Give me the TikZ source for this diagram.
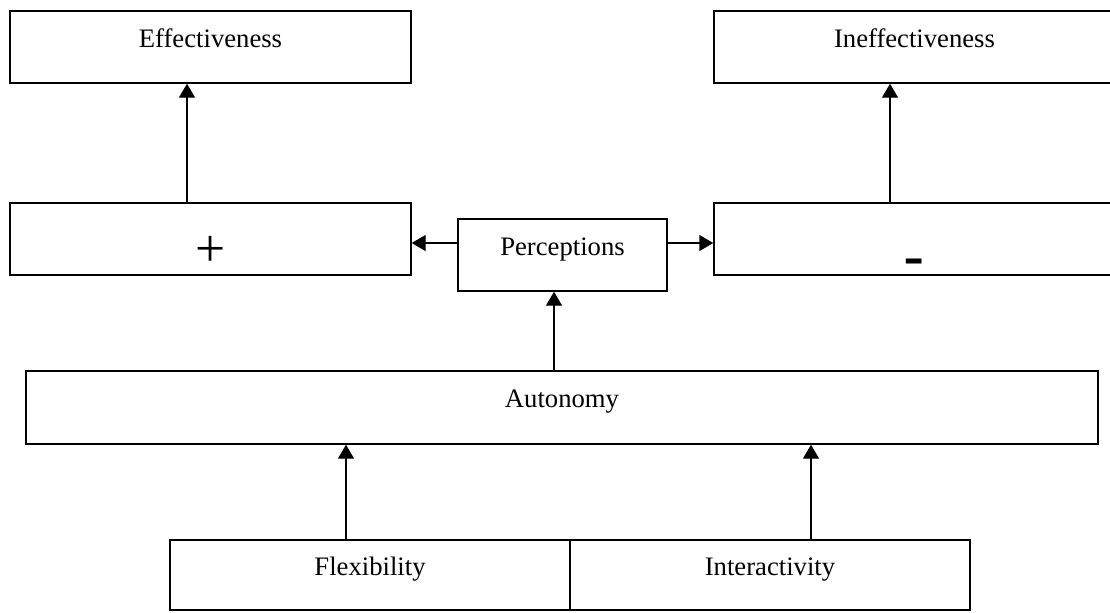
\documentclass[tikz,border=0pt]{standalone}
\usepackage{fontspec}
\setmainfont{Liberation Serif}
\newfontfamily\arialfont{Liberation Sans}
\usetikzlibrary{arrows.meta}
\begin{document}
\begin{tikzpicture}[x=0.75pt,y=-0.75pt,
  box/.style={draw, line width=1.1pt, inner sep=0pt, text height=10pt, text depth=10pt,
    font=\fontsize{20}{24}\selectfont},
  wide/.style={minimum width=300.75pt, minimum height=54pt},
  sign/.style={inner sep=0pt, anchor=base},
  arr/.style={line width=1.1pt, -{Triangle[length=10.5pt,width=12pt]}}]
\useasboundingbox (0,0) rectangle (1110,612);
% boxes
\node[box,wide] (eff) at (210.5,47) {Effectiveness};
\node[box,wide] (ineff) at (914.5,47) {Ineffectiveness};
\node[box,wide] (plus) at (210.5,239) {};
\node[box,wide] (minus) at (914.5,239) {};
\node[box,minimum width=156.75pt,minimum height=54pt] (perc) at (562.5,255) {Perceptions};
\node[box,minimum width=804pt,minimum height=54.75pt] (auto) at (562,407.5) {Autonomy};
\node[box,minimum width=300pt,minimum height=52.5pt] (flex) at (370,575) {Flexibility};
\node[box,minimum width=300pt,minimum height=52.5pt] (inter) at (770,575) {Interactivity};
% signs
\node[sign,font=\fontsize{40}{44}\selectfont] (plussign) at (210.5,266) {+};
\node[sign,font=\arialfont\fontsize{48}{52}\selectfont] (minussign) at (914,278) {-};
% connector guides
\coordinate (xa) at (187,0);
\coordinate (xb) at (890,0);
\coordinate (xc) at (554,0);
\coordinate (xd) at (346,0);
\coordinate (xe) at (811,0);
\coordinate (ya) at (0,243);
% connectors
\draw[arr] (plus.north -| xa) -- (eff.south -| xa);
\draw[arr] (minus.north -| xb) -- (ineff.south -| xb);
\draw[arr] (perc.west |- ya) -- (plus.east |- ya);
\draw[arr] (perc.east |- ya) -- (minus.west |- ya);
\draw[arr] (auto.north -| xc) -- (perc.south -| xc);
\draw[arr] (flex.north -| xd) -- (auto.south -| xd);
\draw[arr] (inter.north -| xe) -- (auto.south -| xe);
\end{tikzpicture}
\end{document}
